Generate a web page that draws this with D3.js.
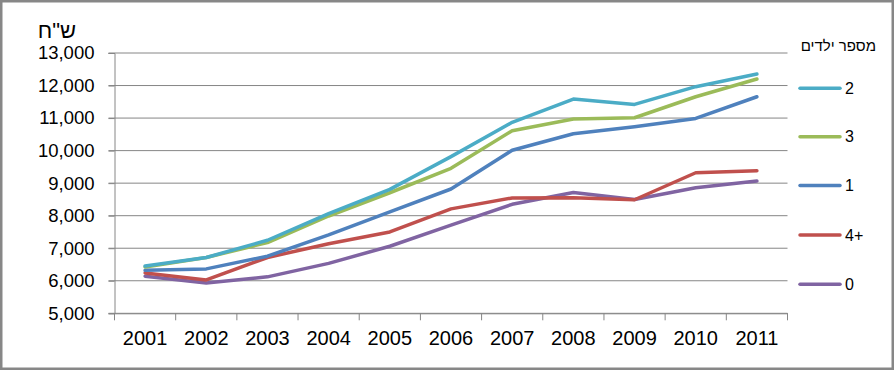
<!DOCTYPE html>
<html>
<head>
<meta charset="utf-8">
<script src="https://cdn.jsdelivr.net/npm/d3@7"></script>
<style>
  body { margin: 0; background: #fff; }
  svg { display: block; font-family: "Liberation Sans", Arial, sans-serif; }
</style>
</head>
<body>
<div class="chart"></div>
<script>
const years = ['2001','2002','2003','2004','2005','2006','2007','2008','2009','2010','2011'];
const yTicks = [5000, 6000, 7000, 8000, 9000, 10000, 11000, 12000, 13000];

// series in legend order
const seriesNames = ['2', '3', '1', '4+', '0'];
const seriesColors = ['#4BACC6', '#9BBB59', '#4F81BD', '#C0504D', '#8064A2'];
const kids2 = [6455, 6715, 7245, 8065, 8810, 9815, 10870, 11585, 11420, 11965, 12355];
const kids3 = [6425, 6715, 7175, 7990, 8705, 9455, 10612, 10970, 11010, 11655, 12200];
const kids1 = [6320, 6365, 6755, 7410, 8120, 8820, 10010, 10520, 10735, 10990, 11655];
const kids4 = [6240, 6025, 6715, 7140, 7500, 8210, 8545, 8555, 8490, 9320, 9380];
const kids0 = [6140, 5930, 6120, 6535, 7060, 7710, 8350, 8715, 8495, 8860, 9065];
const seriesValues = [kids2, kids3, kids1, kids4, kids0];

const W = 894, H = 370;
const plot = {left: 114.5, right: 787.5, top: 53, bottom: 313.3};

let svg = d3.select('.chart').append('svg')
    .attr('width', W)
    .attr('height', H);

svg.append('rect')
    .attr('x', 1.25).attr('y', 1.25)
    .attr('width', W - 2.5).attr('height', H - 2.5)
    .attr('fill', '#fff')
    .attr('stroke', '#878787')
    .attr('stroke-width', 2.5);

const x = d3.scaleBand()
    .domain(years)
    .range([plot.left, plot.right]);

const y = d3.scaleLinear()
    .domain([5000, 13000])
    .range([plot.bottom, plot.top]);

// gridlines
svg.append('g')
    .selectAll('line')
    .data(yTicks)
    .enter()
    .append('line')
    .attr('x1', plot.left - 6)
    .attr('x2', plot.right)
    .attr('y1', d => y(d))
    .attr('y2', d => y(d))
    .attr('stroke', '#868686')
    .attr('stroke-width', 1);

// y axis
const yAxis = d3.axisLeft(y)
    .tickValues(yTicks)
    .tickSize(6)
    .tickPadding(14)
    .tickFormat(d3.format(','));

let Y = svg.append('g')
    .attr('transform', `translate(${plot.left}, 0)`)
    .call(yAxis);
Y.selectAll('line').attr('stroke', '#868686');
Y.select('.domain').attr('stroke', '#868686');
Y.selectAll('text')
    .attr('font-size', 18.5)
    .attr('fill', '#000')
    .style('font-family', '"Liberation Sans", Arial, sans-serif');

// x axis
const xAxis = d3.axisBottom(x)
    .tickSize(0)
    .tickPadding(18)
    .tickSizeOuter(0);

let X = svg.append('g')
    .attr('transform', `translate(0, ${plot.bottom})`)
    .call(xAxis);
X.select('.domain').attr('stroke', '#868686');
X.selectAll('text')
    .attr('font-size', 20)
    .attr('fill', '#000')
    .style('font-family', '"Liberation Sans", Arial, sans-serif');

// category boundary ticks
const bounds = years.map(d => x(d)).concat([x(years[years.length - 1]) + x.bandwidth()]);
svg.append('g')
    .selectAll('line')
    .data(bounds)
    .enter()
    .append('line')
    .attr('x1', d => d).attr('x2', d => d)
    .attr('y1', plot.bottom).attr('y2', plot.bottom + 7)
    .attr('stroke', '#868686');

// lines, drawn bottom to top so cyan sits above
const line = d3.line()
    .x((d, i) => x(years[i]) + x.bandwidth() / 2)
    .y(d => y(d));

const order = [4, 3, 2, 1, 0];
svg.append('g')
    .selectAll('path')
    .data(order)
    .enter()
    .append('path')
    .attr('d', k => line(seriesValues[k]))
    .attr('fill', 'none')
    .attr('stroke', k => seriesColors[k])
    .attr('stroke-width', 3.5)
    .attr('stroke-linejoin', 'round')
    .attr('stroke-linecap', 'round');

// y axis title
svg.append('text')
    .attr('x', 57)
    .attr('y', 38)
    .attr('text-anchor', 'middle')
    .attr('font-size', 22)
    .attr('direction', 'rtl')
    .text('ש"ח');

// legend
svg.append('text')
    .attr('x', 876)
    .attr('y', 51)
    .attr('text-anchor', 'start')
    .attr('direction', 'rtl')
    .attr('font-size', 15)
    .text('מספר ילדים');

const legendY = [88.3, 136.8, 185.6, 235, 284.3];
let leg = svg.append('g')
    .selectAll('g')
    .data(seriesNames)
    .enter()
    .append('g')
    .attr('transform', (d, i) => `translate(0, ${legendY[i]})`);

leg.append('line')
    .attr('x1', 800).attr('x2', 840)
    .attr('stroke', (d, i) => seriesColors[i])
    .attr('stroke-width', 3.5)
    .attr('stroke-linecap', 'round');

leg.append('text')
    .attr('x', 845)
    .attr('dy', '0.35em')
    .attr('font-size', 16)
    .text(d => d);
</script>
</body>
</html>
